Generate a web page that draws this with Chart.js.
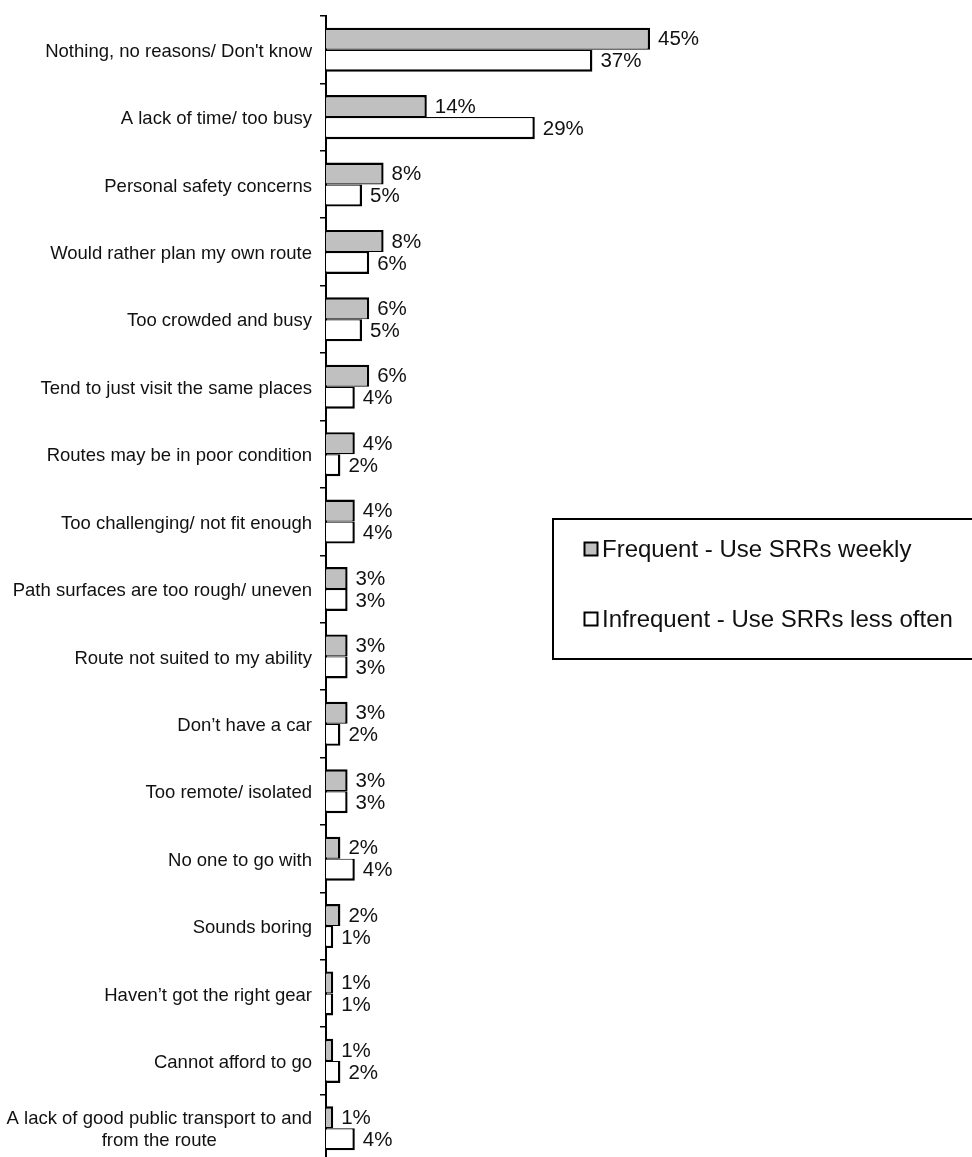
<!DOCTYPE html>
<html>
<head>
<meta charset="utf-8">
<script src="https://cdn.jsdelivr.net/npm/chart.js@4/dist/chart.umd.min.js"></script>
<style>
    html, body { margin: 0; padding: 0; background: #fff; overflow: hidden; }
    canvas { display: block; }
</style>
</head>
<body>
<canvas id="barChart" width="972" height="1172"></canvas>
<script>
const categories = [
    "Nothing, no reasons/ Don't know",
    "A lack of time/ too busy",
    "Personal safety concerns",
    "Would rather plan my own route",
    "Too crowded and busy",
    "Tend to just visit the same places",
    "Routes may be in poor condition",
    "Too challenging/ not fit enough",
    "Path surfaces are too rough/ uneven",
    "Route not suited to my ability",
    "Don\u2019t have a car",
    "Too remote/ isolated",
    "No one to go with",
    "Sounds boring",
    "Haven\u2019t got the right gear",
    "Cannot afford to go",
    ["A lack of good public transport to and", "from the route"]
];
const frequent = [45, 14, 8, 8, 6, 6, 4, 4, 3, 3, 3, 3, 2, 2, 1, 1, 1];
const infrequent = [37, 29, 5, 6, 5, 4, 2, 4, 3, 3, 2, 3, 4, 1, 1, 2, 4];
const seriesNames = ['Frequent - Use SRRs weekly', 'Infrequent - Use SRRs less often'];

const FONT = '"Liberation Sans", Arial, sans-serif';

// category names, right aligned against the axis; wrapped lines centred on each other
const categoryLabels = {
    id: 'categoryLabels',
    afterDraw(chart) {
        const ctx = chart.ctx;
        const y = chart.scales.y;
        const right = chart.chartArea.left - 14;
        ctx.save();
        ctx.font = '18.5px ' + FONT;
        ctx.fillStyle = '#111';
        ctx.textBaseline = 'middle';
        ctx.textAlign = 'center';
        categories.forEach((label, i) => {
            const lines = Array.isArray(label) ? label : [label];
            const widest = Math.max(...lines.map(l => ctx.measureText(l).width));
            const mid = right - widest / 2;
            const lineH = 22;
            const cy = y.getPixelForValue(i) + 2;
            lines.forEach((line, k) => {
                ctx.fillText(line, mid, cy + (k - (lines.length - 1) / 2) * lineH);
            });
        });
        ctx.restore();
    }
};

// percentage next to the end of each bar
const valueLabels = {
    id: 'valueLabels',
    afterDatasetsDraw(chart) {
        const ctx = chart.ctx;
        ctx.save();
        ctx.font = '20.5px ' + FONT;
        ctx.fillStyle = '#111';
        ctx.textAlign = 'left';
        ctx.textBaseline = 'middle';
        chart.data.datasets.forEach((ds, d) => {
            chart.getDatasetMeta(d).data.forEach((bar, i) => {
                ctx.fillText(ds.data[i] + '%', bar.x + 8, bar.y + 1);
            });
        });
        ctx.restore();
    }
};

// boxed legend sitting to the right of the bars
const boxLegend = {
    id: 'boxLegend',
    afterDraw(chart) {
        const ctx = chart.ctx;
        const left = 553, top = 519, bottom = 659;
        ctx.save();
        ctx.strokeStyle = '#000';
        ctx.lineWidth = 2;
        ctx.strokeRect(left, top, chart.width - left + 10, bottom - top);
        ctx.font = '24px ' + FONT;
        ctx.textBaseline = 'middle';
        ctx.textAlign = 'left';
        chart.data.datasets.forEach((ds, d) => {
            const cy = 549 + d * 70;
            ctx.fillStyle = ds.backgroundColor;
            ctx.fillRect(584.5, cy - 6.5, 13, 13);
            ctx.lineWidth = 2;
            ctx.strokeRect(584.5, cy - 6.5, 13, 13);
            ctx.fillStyle = '#111';
            ctx.fillText(ds.label, 602, cy + 1);
        });
        ctx.restore();
    }
};

new Chart(document.getElementById('barChart'), {
    type: 'bar',
    data: {
        labels: categories,
        datasets: [{
            label: seriesNames[0],
            data: frequent,
            backgroundColor: '#c0c0c0',
            borderColor: '#000',
            borderWidth: {top: 2.4, right: 2.4, bottom: 1.2, left: 0},
            borderSkipped: false
        }, {
            label: seriesNames[1],
            data: infrequent,
            backgroundColor: '#ffffff',
            borderColor: '#000',
            borderWidth: {top: 1.2, right: 2.4, bottom: 2.4, left: 0},
            borderSkipped: false
        }]
    },
    options: {
        indexAxis: 'y',
        responsive: false,
        devicePixelRatio: 1,
        animation: false,
        categoryPercentage: 0.653,
        barPercentage: 1,
        layout: {padding: {top: 16, right: 286, bottom: 10, left: 0}},
        plugins: {legend: {display: false}, tooltip: {enabled: false}},
        scales: {
            x: {display: false, min: 0, max: 50},
            y: {
                afterFit(scale) { scale.width = 326; },
                ticks: {display: false},
                grid: {
                    display: true,
                    offset: true,
                    drawOnChartArea: false,
                    drawTicks: true,
                    tickLength: 6,
                    color: '#000',
                    lineWidth: 1.5
                },
                border: {display: true, color: '#000', width: 2}
            }
        }
    },
    plugins: [categoryLabels, valueLabels, boxLegend]
});
</script>
</body>
</html>
